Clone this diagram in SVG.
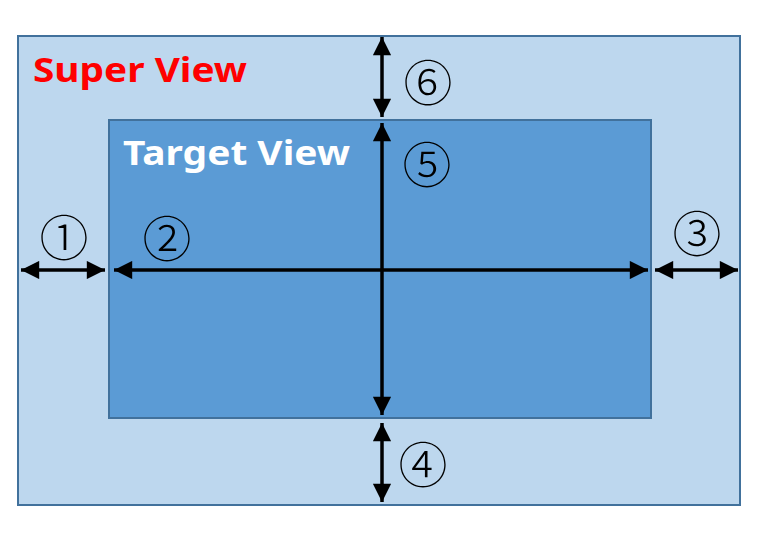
<svg xmlns="http://www.w3.org/2000/svg" width="761" height="541" viewBox="0 0 761 541">
<style>
.lbl{font-family:"Noto Sans","Liberation Sans",sans-serif;font-weight:bold;font-size:34px}
.num{font-family:"Noto Sans CJK JP","Noto Sans CJK SC",sans-serif;font-size:49px;font-weight:300;fill:#000;text-anchor:middle;dominant-baseline:central}
.arr{stroke:#000;stroke-width:3.5;fill:none;marker-start:url(#ah);marker-end:url(#ah)}
</style>
<defs>
<marker id="ah" viewBox="0 0 10 10" refX="10" refY="5" markerWidth="5.6" markerHeight="5.2" orient="auto-start-reverse" markerUnits="strokeWidth">
<path d="M0,0 L10,5 L0,10 Z" fill="#000"/>
</marker>
</defs>
<rect width="761" height="541" fill="#fff"/>
<g id="superview">
<rect x="18" y="36" width="722" height="469" fill="#BDD7EE" stroke="#41719C" stroke-width="2"/>
<text class="lbl" x="33" y="82" fill="#FF0000" textLength="214" lengthAdjust="spacingAndGlyphs">Super View</text>
</g>
<g id="targetview">
<rect x="109" y="120" width="542" height="298" fill="#5B9BD5" stroke="#41719C" stroke-width="2"/>
<text class="lbl" x="123" y="165" fill="#FFFFFF" textLength="227" lengthAdjust="spacingAndGlyphs">Target View</text>
</g>
<g id="connectors">
<line class="arr" x1="21" y1="270" x2="105" y2="270"/>
<line class="arr" x1="114" y1="270" x2="648" y2="270"/>
<line class="arr" x1="655" y1="270" x2="738" y2="270"/>
<line class="arr" x1="382" y1="37" x2="382" y2="117"/>
<line class="arr" x1="382" y1="123" x2="382" y2="415"/>
<line class="arr" x1="382" y1="423" x2="382" y2="502"/>
</g>
<g id="labels">
<text class="num" x="64" y="234">①</text>
<text class="num" x="167" y="235">②</text>
<text class="num" x="697" y="230">③</text>
<text class="num" x="423" y="461">④</text>
<text class="num" x="427" y="161">⑤</text>
<text class="num" x="428" y="79">⑥</text>
</g>
</svg>
